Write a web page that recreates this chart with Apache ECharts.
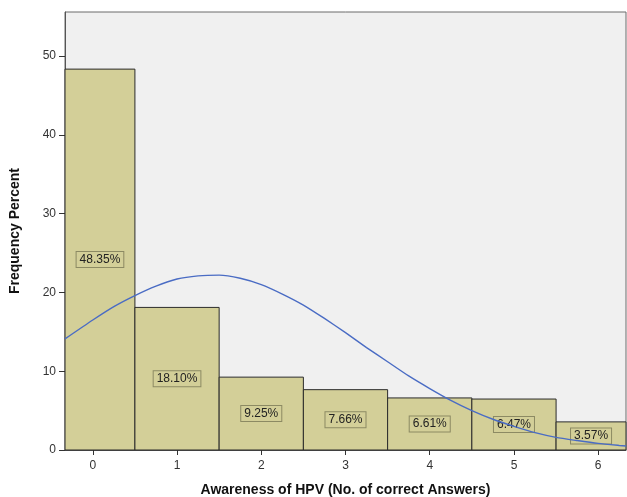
<!DOCTYPE html>
<html>
<head>
<meta charset="utf-8">
<script src="https://cdn.jsdelivr.net/npm/echarts@6/dist/echarts.min.js"></script>
<style>
  html, body { margin: 0; padding: 0; background: #fff; }
  #main { width: 627px; height: 497px; }
</style>
</head>
<body>
<div id="main"></div>
<script>
// histogram bins (No. of correct answers) and percent
var bins = [0, 1, 2, 3, 4, 5, 6];
var percents = [48.35, 18.10, 9.25, 7.66, 6.61, 6.47, 3.57];
var barLabels = ['48.35%', '18.10%', '9.25%', '7.66%', '6.61%', '6.47%', '3.57%'];
var xTicks = [0, 1, 2, 3, 4, 5, 6];

// normal curve
var curveX = [-0.33, 0, 0.25, 0.5, 0.75, 1, 1.25, 1.5, 1.75, 2, 2.25, 2.5, 2.75, 3, 3.25, 3.5, 3.75, 4, 4.25, 4.5, 4.75, 5, 5.25, 5.5, 5.75, 6, 6.25, 6.33];
var curveY = [14.1, 16.5, 18.2, 19.6, 20.8, 21.7, 22.1, 22.2, 21.8, 21.0, 19.8, 18.4, 16.7, 14.9, 13.0, 11.2, 9.4, 7.8, 6.3, 5.0, 3.9, 3.0, 2.2, 1.6, 1.2, 0.84, 0.58, 0.51];

var barFill = '#d3cf98';
var font = '"Liberation Sans", Arial, sans-serif';

var myChart = echarts.init(document.getElementById('main'));

var option = {
    animation: false,
    grid: {
        left: 65, top: 12, right: 1, bottom: 47,
        outerBoundsMode: 'none',
        containLabel: false,
        show: true,
        backgroundColor: '#f0f0f0',
        borderColor: '#6a6a6a',
        borderWidth: 1
    },
    xAxis: {
        type: 'value',
        min: -0.33,
        max: 6.33,
        name: 'Awareness of HPV (No. of correct Answers)',
        nameLocation: 'middle',
        nameGap: 33,
        nameTextStyle: { fontFamily: font, fontWeight: 'bold', fontSize: 14, color: '#111' },
        axisLine: { onZero: false, lineStyle: { color: '#555', width: 1 } },
        axisTick: { show: true, length: 5, lineStyle: { color: '#333' }, customValues: xTicks },
        axisLabel: { fontFamily: font, fontSize: 12, color: '#333', margin: 10, customValues: xTicks },
        splitLine: { show: false }
    },
    yAxis: {
        type: 'value',
        min: 0,
        max: 55.6,
        interval: 10,
        name: 'Frequency Percent',
        nameLocation: 'middle',
        nameGap: 43,
        nameTextStyle: { fontFamily: font, fontWeight: 'bold', fontSize: 14, color: '#111' },
        axisLine: { show: true, onZero: false, lineStyle: { color: '#555', width: 1 } },
        axisTick: { show: true, length: 6, lineStyle: { color: '#333' } },
        axisLabel: { fontFamily: font, fontSize: 12, color: '#333', margin: 9, showMaxLabel: false },
        splitLine: { show: false }
    },
    series: [
        {
            type: 'custom',
            z: 2,
            data: bins.map(function (b, i) { return [b, percents[i], i]; }),
            renderItem: function (params, api) {
                var x = api.value(0), y = api.value(1), i = api.value(2);
                var p0 = api.coord([x - 0.5, y]);
                var p1 = api.coord([x + 0.5, 0]);
                var cs = params.coordSys;
                var r = echarts.graphic.clipRectByRect(
                    { x: p0[0], y: p0[1], width: p1[0] - p0[0], height: p1[1] - p0[1] },
                    { x: cs.x, y: cs.y, width: cs.width, height: cs.height }
                );
                var mid = api.coord([x, y / 2]);
                return {
                    type: 'group',
                    children: [
                        { type: 'rect', shape: r, style: { fill: barFill, stroke: '#2b2b2b', lineWidth: 1 } },
                        {
                            type: 'text',
                            x: r.x + r.width / 2,
                            y: mid[1],
                            style: {
                                text: barLabels[i],
                                align: 'center',
                                verticalAlign: 'middle',
                                font: '12px ' + font,
                                fill: '#222',
                                backgroundColor: barFill,
                                borderColor: '#8c8a63',
                                borderWidth: 1,
                                padding: [2, 3, 1, 3]
                            }
                        }
                    ]
                };
            }
        },
        {
            type: 'line',
            z: 5,
            smooth: 0.2,
            showSymbol: false,
            data: curveX.map(function (x, i) { return [x, curveY[i]]; }),
            lineStyle: { color: '#4a6cc4', width: 1.4 }
        }
    ]
};

myChart.setOption(option);
</script>
</body>
</html>
